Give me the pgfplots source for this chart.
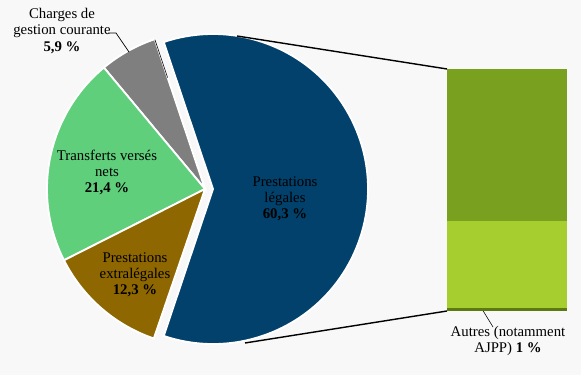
\documentclass[border=0pt]{standalone}
\usepackage{fontspec}
\setmainfont{Liberation Serif}
\usepackage{pgfplots}
\pgfplotsset{compat=1.18}
\definecolor{cbg}{HTML}{F8F8F8}
\definecolor{cblue}{HTML}{02416B}
\definecolor{cbrown}{HTML}{8E6700}
\definecolor{cgreen}{HTML}{5FCF7B}
\definecolor{cgray}{HTML}{7F7F7F}
\definecolor{colive}{HTML}{7AA01F}
\definecolor{clight}{HTML}{A6CE2E}
\definecolor{cdark}{HTML}{5B7A12}
\newcommand{\fs}{\fontsize{10.5}{11.4}\selectfont}
\begin{document}
\begin{tikzpicture}
\begin{axis}[
  x=0.024957cm, y=0.024957cm,
  xmin=0, xmax=581, ymin=0, ymax=375,
  axis lines=none, ticks=none, clip=false,
]
\fill[cbg] (axis cs:0,0) rectangle (axis cs:581,375);
% Pie (values in percent): legales 60.3, charges 5.9, transferts 21.4, extralegales 12.3
\fill[cblue, draw=white, line width=1.3pt] (axis cs:213,186) -- ++({-1.8*60.3}:155)
  arc[start angle={-1.8*60.3}, end angle={1.8*60.3}, radius=155] -- cycle;
\fill[cgray, draw=white, line width=1.3pt] (axis cs:205,186) -- ++({1.8*60.3}:158)
  arc[start angle={1.8*60.3}, end angle={1.8*60.3+3.6*5.9}, radius=158] -- cycle;
\fill[cgreen, draw=white, line width=1.3pt] (axis cs:205,186) -- ++({1.8*60.3+3.6*5.9}:158)
  arc[start angle={1.8*60.3+3.6*5.9}, end angle={1.8*60.3+3.6*(5.9+21.4)}, radius=158] -- cycle;
\fill[cbrown, draw=white, line width=1.3pt] (axis cs:205,186) -- ++({1.8*60.3+3.6*(5.9+21.4)}:158)
  arc[start angle={1.8*60.3+3.6*(5.9+21.4)}, end angle={1.8*60.3+3.6*(5.9+21.4+12.3)}, radius=158] -- cycle;
\draw[black, line width=0.4pt] (axis cs:205,186) ++({1.8*60.3}:157.5) -- ++({1.8*60.3+180}:40);
% connector lines
\draw[black, line width=1pt] (axis cs:237,339) -- (axis cs:447,306);
\draw[black, line width=1pt] (axis cs:245,32) -- (axis cs:447,64);
\coordinate (bsw) at (axis cs:447,64);
% labels
\node[align=center, font=\fs] at (axis cs:62,344) {Charges de\\gestion courante\\\textbf{5,9 \%}};
\draw[black, line width=0.5pt] (axis cs:108,342) -- (axis cs:116,342) -- (axis cs:129,323);
\node[align=center, font=\fs] at (axis cs:107,203) {Transferts versés\\nets\\\textbf{21,4 \%}};
\node[align=center, font=\fs] at (axis cs:135,100) {Prestations\\extralégales\\\textbf{12,3 \%}};
\node[align=center, font=\fs] at (axis cs:285,176) {Prestations\\légales\\\textbf{60,3 \%}};
\node[align=center, font=\fs] at (axis cs:508,223) {Prestations\\d’entretien\\\textbf{63 \%}};
\node[align=center, font=\fs] at (axis cs:509,113) {Prestations\\d’accueil du jeune\\enfant\\\textbf{36 \%}};
\node[align=center, font=\fs] at (axis cs:508,34) {Autres (notamment\\AJPP) \textbf{1 \%}};
\draw[black, line width=0.4pt] (axis cs:482,66) -- (axis cs:493,48);
\end{axis}
\begin{axis}[
  at={(bsw)}, anchor=south west,
  x=0.024957cm, y=0.060396cm,
  xmin=0, xmax=120, ymin=0, ymax=100,
  axis lines=none, ticks=none,
  ybar stacked, bar width=2.9948cm, bar shift=0pt,
]
\addplot[fill=cdark, draw=none] coordinates {(60,1.2)};
\addplot[fill=clight, draw=none] coordinates {(60,36)};
\addplot[fill=colive, draw=none] coordinates {(60,62.8)};
\end{axis}
\end{tikzpicture}
\end{document}
